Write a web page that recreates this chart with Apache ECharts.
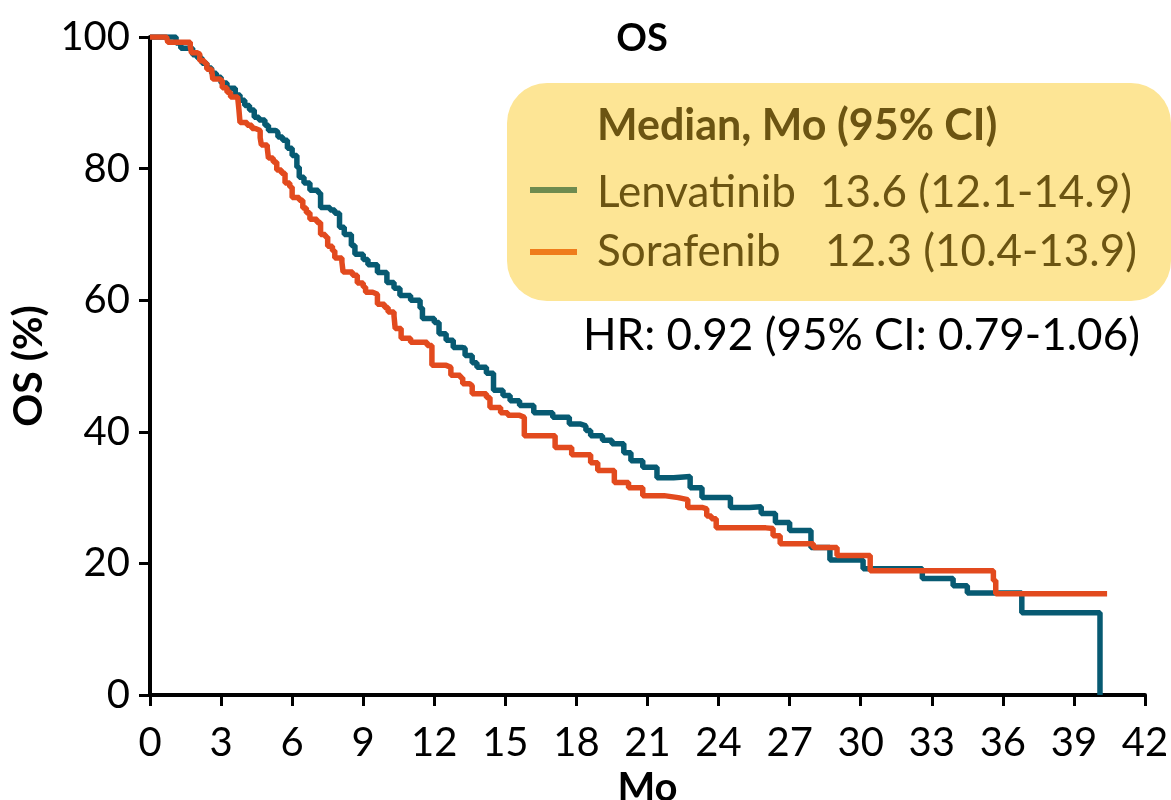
<!DOCTYPE html>
<html>
<head>
<meta charset="utf-8">
<script src="https://cdn.jsdelivr.net/npm/echarts@6/dist/echarts.min.js"></script>
<style>
  html, body { margin: 0; padding: 0; background: #fff; }
  #chart { width: 1171px; height: 800px; }
</style>
</head>
<body>
<div id="chart"></div>
<script>
// KM curves: months and OS %
const lenvMonths = [0, 0.6, 1.1, 1.3, 1.8, 2.0, 2.2, 2.4, 2.6, 2.8, 3.0, 3.25, 3.6, 3.8, 4.0, 4.2, 4.4, 4.6, 4.85, 5.0, 5.3, 5.4, 5.6, 5.8, 6.0, 6.2, 6.3, 6.5, 6.75, 7.1, 7.2, 7.6, 7.8, 8.0, 8.2, 8.5, 8.65, 9.0, 9.2, 9.6, 10.0, 10.3, 10.55, 11.0, 11.4, 11.5, 12.0, 12.2, 12.5, 12.8, 13.2, 13.3, 13.6, 13.8, 14.2, 14.5, 14.9, 15.2, 15.6, 16.2, 17.0, 17.7, 18.15, 18.4, 18.6, 19.1, 19.5, 20.0, 20.3, 20.8, 21.4, 22.1, 22.8, 23.3, 23.8, 24.5, 25.3, 25.8, 26.4, 27.0, 27.9, 28.7, 30.1, 32.6, 33.9, 34.5, 36.8, 40.1, 40.1];
const lenvPct = [100, 100, 99.1, 98.3, 97.3, 96.8, 96.0, 95.3, 94.5, 93.9, 93.0, 92.2, 91.2, 90.4, 89.6, 88.9, 87.8, 87.4, 86.6, 85.8, 85.5, 84.8, 84.3, 83.1, 82.0, 80.2, 78.7, 77.8, 76.7, 76.3, 74.1, 73.7, 73.2, 71.1, 70.0, 68.3, 67.0, 66.2, 65.4, 64.2, 62.7, 61.8, 60.7, 60.0, 58.8, 57.2, 56.6, 54.9, 53.9, 52.8, 52.7, 51.6, 50.5, 49.8, 48.9, 46.3, 45.5, 44.7, 44.0, 42.9, 42.2, 41.2, 40.9, 40.2, 39.4, 38.7, 38.2, 36.8, 35.6, 34.6, 33.0, 33.2, 31.5, 30.0, 30.0, 28.5, 28.6, 27.6, 26.2, 25.0, 22.4, 20.5, 19.2, 17.7, 16.6, 15.5, 12.5, 12.5, 0];

const soraMonths = [0, 0.7, 0.75, 1.35, 1.7, 1.75, 2.0, 2.1, 2.3, 2.4, 2.6, 2.65, 2.95, 3.05, 3.25, 3.4, 3.7, 3.75, 3.8, 4.1, 4.3, 4.45, 4.65, 4.7, 4.95, 5.0, 5.2, 5.35, 5.55, 5.7, 5.9, 6.0, 6.3, 6.45, 6.6, 6.75, 7.05, 7.2, 7.4, 7.5, 7.7, 7.8, 8.1, 8.15, 8.55, 8.75, 9.0, 9.1, 9.4, 9.6, 9.9, 10.05, 10.3, 10.35, 10.6, 11.0, 11.7, 11.9, 12.5, 12.7, 13.1, 13.2, 13.5, 13.6, 14.2, 14.35, 14.8, 15.1, 15.6, 15.8, 17.1, 17.8, 18.6, 18.9, 19.6, 20.2, 20.8, 21.7, 22.3, 22.7, 23.3, 23.5, 23.7, 23.9, 26.0, 26.3, 26.6, 28.0, 29.0, 30.4, 35.6, 35.7, 40.4];
const soraPct = [100, 100, 99.2, 99.2, 98.6, 97.6, 97.4, 96.4, 96.0, 95.1, 94.8, 93.6, 93.3, 92.3, 91.6, 90.9, 90.7, 89.1, 87.0, 86.6, 86.1, 85.8, 84.7, 83.6, 83.1, 81.6, 81.0, 79.8, 79.3, 77.8, 77.2, 75.6, 75.2, 74.0, 73.3, 72.3, 71.8, 70.0, 69.6, 68.2, 67.5, 66.4, 65.8, 64.3, 63.8, 62.6, 62.0, 61.2, 60.9, 59.4, 58.9, 58.2, 57.6, 55.7, 54.2, 53.6, 53.1, 50.1, 49.8, 48.6, 48.2, 47.3, 47.0, 45.8, 45.2, 43.7, 42.9, 42.5, 42.2, 39.4, 37.6, 36.5, 35.3, 34.1, 32.3, 31.5, 30.3, 30.0, 29.7, 28.5, 28.3, 27.2, 26.8, 25.4, 25.3, 24.2, 23.0, 22.4, 21.2, 18.9, 17.4, 15.4, 15.4];

const xTicks = [0, 3, 6, 9, 12, 15, 18, 21, 24, 27, 30, 33, 36, 39, 42];
const arms = ['Lenvatinib', 'Sorafenib'];
const medians = ['13.6 (12.1-14.9)', '12.3 (10.4-13.9)'];
const hrText = 'HR: 0.92 (95% CI: 0.79-1.06)';

const font = 'Lato, "Open Sans", sans-serif';
const boxText = '#6b5412';

const chart = echarts.init(document.getElementById('chart'));

const pairs = (xs, ys) => xs.map((x, i) => [x, ys[i]]);

// text helper for the boxed legend, anchored at its left / vertical middle
const label = (x, y, text, size, color, bold) => ({
  type: 'text',
  x: x, y: y,
  style: {
    text: text, fontFamily: font, fontSize: size, fill: color,
    fontWeight: bold ? 'bold' : 'normal', verticalAlign: 'middle'
  },
  z: 11
});

chart.setOption({
  animation: false,
  grid: { left: 150, right: 26, top: 37, bottom: 105, containLabel: false, outerBoundsMode: 'none' },
  title: {
    text: 'OS',
    left: 637,
    top: 15,
    textAlign: 'center',
    textStyle: { fontFamily: font, fontWeight: 'bold', fontSize: 38, color: '#000' }
  },
  xAxis: {
    type: 'value',
    min: 0,
    max: 42,
    interval: 3,
    name: 'Mo',
    nameLocation: 'middle',
    nameGap: 62,
    nameTextStyle: { fontFamily: font, fontWeight: 'bold', fontSize: 40, color: '#000' },
    axisLine: { onZero: false, lineStyle: { color: '#000', width: 4 } },
    axisTick: { length: 11, lineStyle: { color: '#000', width: 3 } },
    axisLabel: {
      margin: 28,
      fontFamily: font,
      fontSize: 40,
      color: '#000',
      formatter: v => (xTicks.includes(v) ? String(v) : '')
    },
    splitLine: { show: false }
  },
  yAxis: {
    type: 'value',
    min: 0,
    max: 100,
    interval: 20,
    name: 'OS (%)',
    nameLocation: 'middle',
    nameRotate: 90,
    nameGap: 96,
    nameTextStyle: { fontFamily: font, fontWeight: 'bold', fontSize: 41, color: '#000' },
    axisLine: { show: true, lineStyle: { color: '#000', width: 4 } },
    axisTick: { show: true, length: 11, lineStyle: { color: '#000', width: 3 } },
    axisLabel: { margin: 20, fontFamily: font, fontSize: 40, color: '#000' },
    splitLine: { show: false }
  },
  series: [
    {
      name: arms[0],
      type: 'line',
      step: 'end',
      symbol: 'none',
      lineStyle: { color: '#075a72', width: 5.5 },
      data: pairs(lenvMonths, lenvPct),
      z: 2
    },
    {
      name: arms[1],
      type: 'line',
      step: 'end',
      symbol: 'none',
      lineStyle: { color: '#e24a1e', width: 5.5 },
      data: pairs(soraMonths, soraPct),
      z: 3
    }
  ],
  graphic: [
    {
      type: 'rect',
      shape: { x: 507, y: 83, width: 664, height: 218, r: 40 },
      style: { fill: '#fde595' },
      z: 10
    },
    label(597, 126, 'Median, Mo (95% CI)', 43, boxText, true),
    {
      type: 'line',
      shape: { x1: 530, y1: 190, x2: 577, y2: 190 },
      style: { stroke: '#6e8b4f', lineWidth: 6 },
      z: 11
    },
    label(597, 193, arms[0], 44, boxText),
    label(820, 193, medians[0], 44, boxText),
    {
      type: 'line',
      shape: { x1: 530, y1: 252, x2: 577, y2: 252 },
      style: { stroke: '#ef7c1b', lineWidth: 6 },
      z: 11
    },
    label(597, 252, arms[1], 44, boxText),
    label(825, 252, medians[1], 44, boxText),
    label(583, 336, hrText, 44, '#000')
  ]
});
</script>
</body>
</html>
